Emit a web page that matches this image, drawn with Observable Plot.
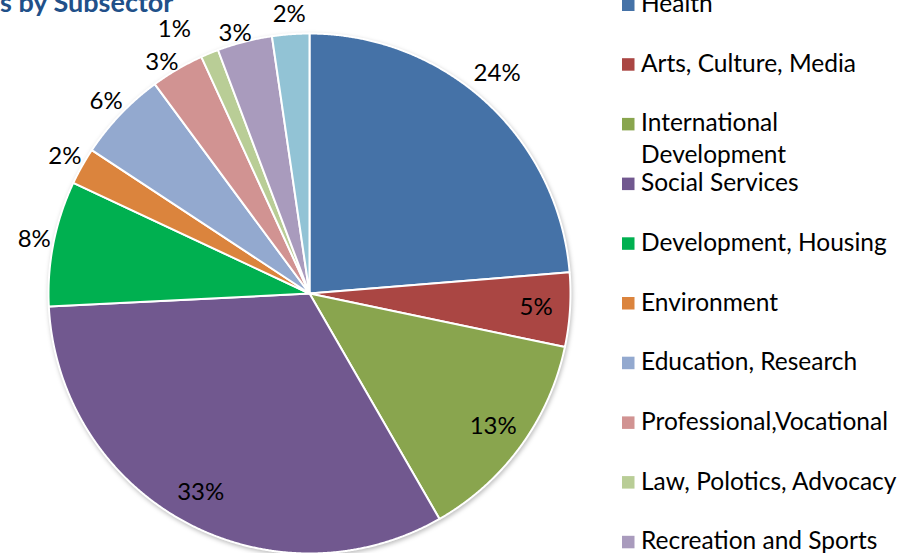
<!DOCTYPE html>
<html>
<head>
<meta charset="utf-8">
<script src="https://cdn.jsdelivr.net/npm/d3@7"></script>
<script src="https://cdn.jsdelivr.net/npm/@observablehq/plot@0.6"></script>
<style>
  body { margin: 0; background: #fff; }
  #chart { position: relative; width: 913px; height: 553px; overflow: hidden; }
  #chart svg g[aria-label="line"] { filter: drop-shadow(1px 2px 2px rgba(0,0,0,0.25)); }
</style>
</head>
<body>
<div id="chart"></div>
<script>
// ---- data ----
const categories = [
  "Health", "Arts, Culture, Media", "International Development", "Social Services",
  "Development, Housing", "Environment", "Education, Research", "Professional,Vocational",
  "Law, Polotics, Advocacy", "Recreation and Sports", "Religion"
];
const shares = [23.7, 4.6, 13.4, 32.5, 7.8, 2.3, 5.6, 3.3, 1.1, 3.4, 2.3];
const colors = ["#4572A7", "#AA4643", "#89A54E", "#71588F", "#00B050", "#DB843D",
                "#93A9CF", "#D19392", "#B9CD96", "#A99BBD", "#92C3D5"];
const legendLabels = [["Health"], ["Arts, Culture, Media"], ["International", "Development"],
  ["Social Services"], ["Development, Housing"], ["Environment"], ["Education, Research"],
  ["Professional,Vocational"], ["Law, Polotics, Advocacy"], ["Recreation and Sports"], ["Religion"]];
const titleText = "s by Subsector";

// ---- label placement style ----
const insideLabels = new Set(["Arts, Culture, Media", "International Development", "Social Services"]);
const labelNudge = { // angle nudge (degrees) and radius (relative to pie radius) for crowded labels
  "Health": {deg: -2.3, r: 1.11},
  "Law, Polotics, Advocacy": {deg: -4.5, r: 1.14},
  "Recreation and Sports": {deg: -1.5, r: 1.04},
  "Professional,Vocational": {deg: -2, r: 1.055}
};

// ---- geometry from data ----
const rows = categories.map((name, i) => ({name, share: shares[i]}));
const arcs = d3.pie().sort(null).value(d => d.share).startAngle(0).endAngle(2 * Math.PI)(rows);

const slicePts = [];
for (const a of arcs) {
  const name = a.data.name;
  slicePts.push({name, x: 0, y: 0});
  const n = Math.max(2, Math.ceil((a.endAngle - a.startAngle) / 0.004));
  for (let k = 0; k <= n; k++) {
    const t = a.startAngle + (a.endAngle - a.startAngle) * k / n;
    slicePts.push({name, x: Math.sin(t), y: Math.cos(t)});
  }
  slicePts.push({name, x: 0, y: 0});
}

const labelRows = arcs.map(a => {
  const name = a.data.name;
  let mid = (a.startAngle + a.endAngle) / 2;
  let r = insideLabels.has(name) ? 0.87 : 1.075;
  if (labelNudge[name]) { mid += labelNudge[name].deg * Math.PI / 180; r = labelNudge[name].r; }
  return {x: r * Math.sin(mid), y: r * Math.cos(mid), text: Math.round(a.data.share) + "%"};
});

const chart = Plot.plot({
  width: 913,
  height: 553,
  marginLeft: 48,
  marginRight: 343,
  marginTop: 33,
  marginBottom: 0,
  x: {domain: [-1, 1], axis: null},
  y: {domain: [-1, 1], axis: null},
  color: {domain: categories, range: colors},
  style: {fontFamily: "Lato, 'Open Sans', sans-serif", background: "#fff", overflow: "visible"},
  marks: [
    Plot.line(slicePts, {x: "x", y: "y", z: "name", fill: "name", stroke: "white", strokeWidth: 2, strokeLinejoin: "round", curve: "linear"}),
    Plot.text(labelRows, {x: "x", y: "y", text: "text", fontSize: 24, fill: "#000", textAnchor: "middle", lineAnchor: "middle"})
  ]
});

document.getElementById("chart").appendChild(chart);

// ---- title and legend overlay ----
const svg = d3.select(chart);
const colorScale = chart.scale("color");
svg.append("text")
  .attr("x", 0).attr("y", 11.5).attr("text-anchor", "start")
  .attr("font-family", "Lato, sans-serif").attr("font-weight", "bold").attr("font-size", 27)
  .attr("fill", "#215089")
  .text(titleText);

const lg = svg.append("g").attr("font-family", "Lato, sans-serif").attr("font-size", 24.5)
  .attr("fill", "#000").attr("text-anchor", "start");
categories.forEach((c, i) => {
  const cy = 4.5 + 59.7 * i;
  lg.append("rect").attr("x", 622).attr("y", cy - 6).attr("width", 12.5).attr("height", 12.5)
    .attr("fill", colorScale.apply(c));
  legendLabels[i].forEach((line, j) => {
    lg.append("text").attr("x", 641).attr("y", cy + 7.5 + 31.5 * j).text(line);
  });
});
</script>
</body>
</html>
